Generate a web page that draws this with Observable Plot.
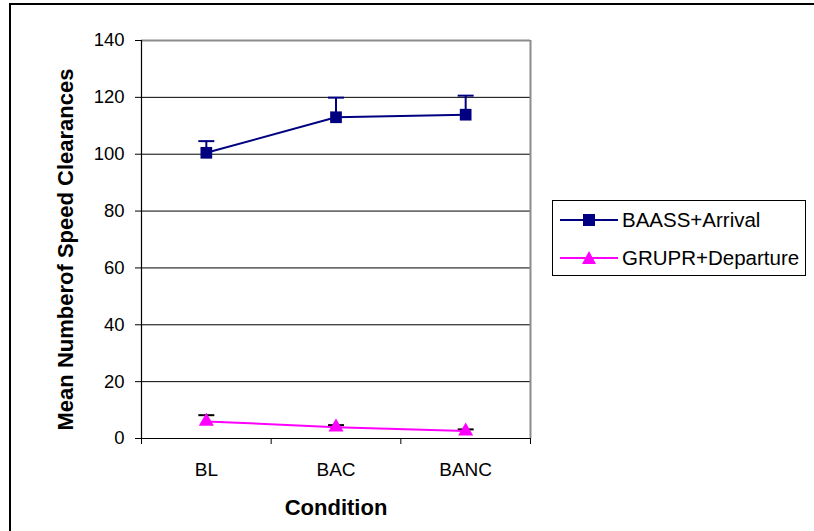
<!DOCTYPE html>
<html>
<head>
<meta charset="utf-8">
<script src="https://cdn.jsdelivr.net/npm/d3@7"></script>
<script src="https://cdn.jsdelivr.net/npm/@observablehq/plot@0.6"></script>
<style>
  body { margin: 0; background: #fff; font-family: "Liberation Sans", Arial, sans-serif; }
  #wrap { position: relative; width: 814px; height: 531px; overflow: hidden; background: #fff; }
  #frame { position: absolute; left: 9px; top: 3px; width: 900px; height: 600px; border-top: 2px solid #000; border-left: 2px solid #000; pointer-events: none; }
  #chart { position: absolute; left: 0; top: 0; }
  #legend { position: absolute; left: 552px; top: 200px; width: 254px; height: 76px; border: 1px solid #000; background: #fff; box-sizing: border-box; }
  .item { position: absolute; left: 0; height: 26px; display: flex; align-items: center; font-size: 20.5px; color: #000; white-space: nowrap; }
  .item svg { width: 58px; height: 24px; margin-left: 7px; margin-right: 4px; }
</style>
</head>
<body>
<div id="wrap">
  <div id="chart"></div>
  <div id="frame"></div>
  <div id="legend"></div>
</div>
<script>
// ---- data ----
const conditions = ["BL", "BAC", "BANC"];
const arrivalMean = [100.5, 113.0, 113.9];
const arrivalErr = [4.1, 6.9, 6.7];
const departureMean = [6.0, 4.0, 2.6];
const departureErr = [2.2, 0.7, 0.6];
const yTicks = [0, 20, 40, 60, 80, 100, 120, 140];
const seriesNames = ["BAASS+Arrival", "GRUPR+Departure"];
const seriesColors = ["#000080", "#FF00FF"];
const errColors = ["#000080", "#000000"];
const xLabel = "Condition";
const yLabel = "Mean Numberof Speed Clearances";

// ---- table ----
const rows = [];
conditions.forEach((c, i) => {
  rows.push({series: seriesNames[0], cond: c, x: i + 0.5, mean: arrivalMean[i], top: arrivalMean[i] + arrivalErr[i]});
  rows.push({series: seriesNames[1], cond: c, x: i + 0.5, mean: departureMean[i], top: departureMean[i] + departureErr[i]});
});
const s0 = rows.filter(d => d.series === seriesNames[0]);
const s1 = rows.filter(d => d.series === seriesNames[1]);

const capSymbol = {draw(ctx) { ctx.moveTo(-8, 0); ctx.lineTo(8, 0); }};

const font = "'Liberation Sans', Arial, sans-serif";
const chart = Plot.plot({
  width: 814,
  height: 531,
  marginLeft: 141,
  marginRight: 284,
  marginTop: 40,
  marginBottom: 93,
  style: {fontFamily: font, background: "transparent", overflow: "visible"},
  x: {type: "linear", domain: [0, conditions.length], axis: null},
  y: {domain: [0, 140], axis: null},
  marks: [
    // grid lines
    Plot.ruleY(yTicks.filter(t => t > 0 && t < 140), {stroke: "#000", strokeWidth: 1}),
    // plot border (top/right gray)
    Plot.ruleY([140], {stroke: "#8c8c8c", strokeWidth: 2}),
    Plot.ruleX([conditions.length], {stroke: "#8c8c8c", strokeWidth: 2}),
    // axes
    Plot.axisY({ticks: yTicks, tickSize: 6, tickPadding: 11, fontSize: 18.5, label: null, stroke: "#000"}),
    Plot.axisX({ticks: d3.range(conditions.length + 1), tickSize: 6, tickFormat: () => "", label: null}),
    Plot.axisX({ticks: conditions.map((c, i) => i + 0.5), tickSize: 0, tickPadding: 24, fontSize: 19,
      tickFormat: d => conditions[Math.floor(d)], label: null}),
    Plot.ruleX([0], {stroke: "#000", strokeWidth: 1.2}),
    Plot.ruleY([0], {stroke: "#000", strokeWidth: 1.2}),
    // titles
    Plot.text([xLabel], {frameAnchor: "bottom", dy: 76, text: d => d, fontSize: 22, fontWeight: "bold"}),
    Plot.text([yLabel], {frameAnchor: "left", textAnchor: "middle", dx: -76, dy: 10, rotate: -90, text: d => d, fontSize: 22, fontWeight: "bold"}),
    // error bars (upper only)
    Plot.ruleX(s0, {x: "x", y1: "mean", y2: "top", stroke: errColors[0], strokeWidth: 2}),
    Plot.dot(s0, {x: "x", y: "top", symbol: capSymbol, stroke: errColors[0], strokeWidth: 2, fill: "none"}),
    Plot.ruleX(s1, {x: "x", y1: "mean", y2: "top", stroke: errColors[1], strokeWidth: 2}),
    Plot.dot(s1, {x: "x", y: "top", symbol: capSymbol, stroke: errColors[1], strokeWidth: 2, fill: "none"}),
    // lines
    Plot.line(s0, {x: "x", y: "mean", stroke: seriesColors[0], strokeWidth: 2}),
    Plot.line(s1, {x: "x", y: "mean", stroke: seriesColors[1], strokeWidth: 2}),
    // markers
    Plot.dot(s0, {x: "x", y: "mean", symbol: "square", r: 6.6, fill: seriesColors[0], stroke: "none"}),
    Plot.dot(s1, {x: "x", y: "mean", symbol: "triangle", r: 5.6, fill: seriesColors[1], stroke: "none"})
  ]
});
document.getElementById("chart").appendChild(chart);

// ---- legend ----
const legend = document.getElementById("legend");
const symbols = [
  '<rect x="23" y="6" width="12" height="12" fill="COLOR"/>',
  '<polygon points="29,5 36,18 22,18" fill="COLOR"/>'
];
seriesNames.forEach((name, i) => {
  const div = document.createElement("div");
  div.className = "item";
  div.style.top = (i === 0 ? 6 : 44) + "px";
  div.innerHTML = '<svg viewBox="0 0 58 24"><line x1="0" y1="12" x2="58" y2="12" stroke="' + seriesColors[i] + '" stroke-width="2"/>' +
    symbols[i].replace("COLOR", seriesColors[i]) + '</svg><span>' + name + '</span>';
  legend.appendChild(div);
});
</script>
</body>
</html>
